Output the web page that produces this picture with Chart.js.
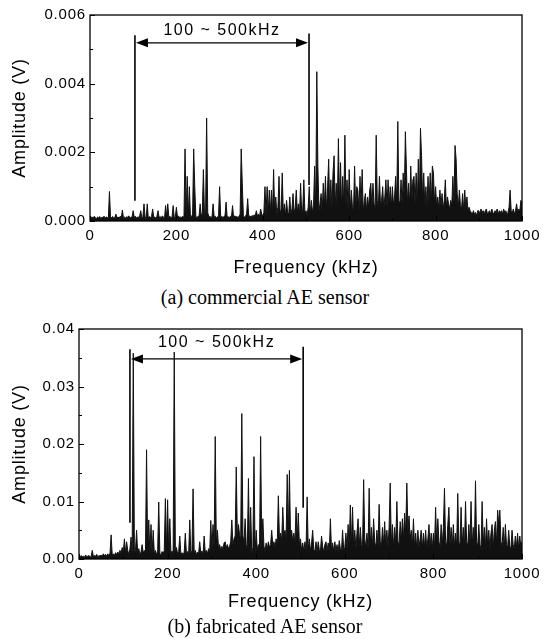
<!DOCTYPE html>
<html><head><meta charset="utf-8">
<script src="https://cdn.jsdelivr.net/npm/chart.js@4.4.1/dist/chart.umd.min.js"></script>
<style>
html,body{margin:0;padding:0;background:#fff;}
body{width:553px;height:639px;position:relative;overflow:hidden;}
canvas{position:absolute;left:0;}
#cA{top:0;} #cB{top:314px;}
.cap{position:absolute;font-family:"Liberation Serif","Times New Roman",serif;font-size:20px;line-height:22px;color:#000;white-space:nowrap;transform:translate(-50%,-50%);}
</style></head><body>
<canvas id="cA" width="553" height="285"></canvas>
<canvas id="cB" width="553" height="308"></canvas>
<div class="cap" style="left:265px;top:297px">(a) commercial AE sensor</div>
<div class="cap" style="left:265px;top:626px">(b) fabricated AE sensor</div>
<script>
// ---- data (amplitude in mV, sampled every FREQ_STEP_KHZ from 0 to 1000 kHz) ----
const FREQ_STEP_KHZ = 2.5;

const AMP_A_MV = [
 0.15,0.1,0.12,0.08,0.14,0.1,0.06,0.12,0.09,0.13,0.07,0.11,0.1,0.14,0.08,0.12,0.1,0.09,0.86,0.12,
 0.1,0.13,0.07,0.11,0.2,0.09,0.12,0.08,0.14,0.1,0.32,0.09,0.12,0.07,0.13,0.1,0.15,0.08,0.11,0.12,
 0.3,0.1,0.14,0.08,0.12,0.1,0.15,0.3,0.09,0.13,0.5,0.11,0.1,0.5,0.08,0.13,0.1,0.14,0.35,0.1,
 0.12,0.08,0.14,0.3,0.1,0.13,0.09,0.15,0.11,0.08,0.45,0.12,0.5,0.1,0.14,0.09,0.13,0.45,0.1,0.12,
 0.4,0.11,0.15,0.09,0.12,0.1,0.14,0.08,2.1,0.2,1.3,0.15,1.0,0.12,0.13,0.2,2.1,1.0,0.14,0.1,
 0.13,0.15,0.5,0.12,0.25,1.5,0.2,0.15,3.0,0.25,0.12,0.14,0.1,0.13,0.5,0.11,0.14,0.09,0.12,0.15,
 1.0,0.12,0.14,0.1,0.13,0.15,0.55,0.11,0.13,0.09,0.14,0.12,0.45,0.1,0.15,0.12,0.13,0.1,0.14,0.2,
 2.1,1.1,0.15,0.12,0.14,0.2,0.65,0.13,0.15,0.11,0.16,0.13,0.18,0.14,0.3,0.15,0.2,0.13,0.35,0.2,
 0.15,0.25,1.0,0.2,1.0,0.2,0.9,0.25,0.9,0.2,1.5,0.25,0.7,0.2,0.4,1.3,0.2,0.35,1.4,0.2,
 0.5,0.15,0.6,0.25,0.2,0.7,0.2,0.35,0.8,0.2,0.4,0.9,0.25,0.5,0.2,1.1,0.25,0.35,1.2,0.25,
 0.3,0.15,0.4,1.0,0.2,0.6,0.25,0.45,1.6,0.3,4.35,1.6,0.3,0.5,0.8,0.25,1.1,0.4,1.3,0.3,
 1.0,1.8,0.3,1.2,0.35,1.4,1.9,0.4,1.1,0.3,2.4,0.5,1.7,0.35,1.3,0.45,2.5,0.5,1.2,0.3,
 1.5,0.3,0.9,0.4,0.3,1.6,0.35,1.0,0.9,0.3,1.3,0.45,1.5,0.25,0.6,0.8,0.3,0.7,0.4,0.9,
 1.1,0.4,1.1,0.5,0.35,2.5,0.6,0.4,1.3,0.45,0.6,1.0,0.35,0.7,1.2,0.4,1.2,0.5,1.0,0.4,
 1.0,0.45,0.7,1.3,0.5,2.9,0.6,0.5,1.2,0.45,1.4,0.6,2.6,1.5,0.5,1.1,0.45,1.6,0.6,1.2,
 1.3,0.5,1.4,0.45,1.8,0.6,2.7,1.9,0.6,1.4,0.45,1.0,0.4,1.3,0.5,1.4,0.45,1.6,1.4,0.5,
 1.0,0.4,0.7,0.35,0.9,0.45,0.8,0.35,0.6,1.2,0.4,0.7,0.5,0.35,0.6,0.45,1.3,0.5,2.2,1.8,
 0.8,0.4,0.9,0.45,0.35,0.8,0.3,0.9,0.35,0.7,0.3,0.4,0.3,0.25,0.2,0.3,0.2,0.25,0.15,0.3,
 0.3,0.2,0.35,0.25,0.3,0.2,0.3,0.35,0.2,0.25,0.3,0.2,0.35,0.25,0.2,0.3,0.25,0.35,0.2,0.3,
 0.25,0.3,0.2,0.35,0.25,0.3,0.2,0.25,0.4,0.9,0.3,0.25,0.35,0.2,0.3,0.5,0.25,0.35,0.3,0.6,
 0.5
];

const AMP_B_MV = [
 0.5,0.3,0.6,0.4,0.5,0.3,0.7,0.4,0.5,0.6,0.3,0.5,1.5,0.4,0.6,0.5,0.8,0.4,0.6,0.5,
 0.7,0.5,0.9,0.6,0.8,0.5,0.9,0.6,1.0,4.2,0.7,0.9,0.6,1.1,0.8,1.2,0.9,1.5,1.0,2.0,
 1.2,3.5,1.0,3.0,1.5,0.8,1.8,3.8,1.0,35.8,1.4,1.5,5.0,1.0,1.8,0.8,1.2,2.5,1.0,1.5,
 0.9,19,1.2,6.8,0.8,6,1.0,5,0.9,1.5,0.8,1.2,9.9,1.0,0.7,1.3,0.9,1.5,10.5,1.2,
 10.3,1.0,7,0.9,1.4,0.8,36,1.2,2.0,0.9,1.3,4,0.8,1.1,0.7,1.2,4.5,0.9,1.3,0.8,
 6.8,1.0,1.4,12.2,1.0,1.5,0.8,1.2,0.9,3.0,1.0,1.4,0.8,4,1.1,1.5,0.9,1.8,1.2,6.7,
 1.5,6,2.0,21.3,2.5,5,1.8,2.5,1.5,2.2,1.8,2.8,3,2.0,2.5,1.8,2.2,3.0,6.8,2.5,
 3.5,4.0,16,3.8,6,4.2,3.5,25.3,4.0,3.0,7,2.5,2.0,14,1.5,9,1.0,2.0,17.8,1.2,
 5,1.5,2.5,1.8,21.3,2.0,7,2.2,1.5,2.8,1.8,3,2.0,2.5,5,2.2,3.0,2.0,3.5,2.5,
 11,3.5,4.5,3.0,9,4.0,5,3.5,14.7,4.0,15.4,3.8,5,3.0,4.5,2.8,9,3.2,8,2.5,
 3.5,1.5,2.8,1.4,3.0,1.6,10.8,1.5,3.5,1.3,2.8,5,1.6,1.4,3.0,1.2,3,1.6,1.4,4,
 2.2,1.2,2.5,3,1.4,2.8,1.2,7,1.5,2.8,1.3,3.0,1.5,2.5,1.2,3.2,1.8,1.3,5,1.6,
 2.0,4.5,1.8,6,2.2,9.4,2.5,9,2.0,5.0,1.8,4.5,7,2.0,5.5,2.5,2.0,13.8,3.5,2.0,
 4.5,1.8,12.3,2.5,5.5,2.0,7,3.0,2.0,5.0,2.2,9.5,3.0,2.0,5.5,2.5,6.5,2.2,5,2.0,
 5.5,13.2,2.5,6,2.0,5.5,2.8,10,3.0,2.5,6.5,3.0,7,3.5,8,4.5,13.2,5,7.5,3.5,
 5,2.2,7,2.0,4.5,1.8,5,2.0,3.5,5,1.8,4.5,2.0,5,1.8,3.5,6,2.0,4.5,1.8,
 4.5,2.0,9,2.5,7,3.0,2.0,6,2.5,5.5,12.3,3.0,2.2,6,9,2.5,5.5,2.0,6,2.2,
 4.5,2.2,11.4,3.0,2.2,9,2.5,5.5,2.0,10,3.0,2.2,6,2.5,10,2.2,5.5,2.0,13.6,3.0,
 2.2,6,2.5,1.8,10,2.5,5.5,2.0,7,2.2,5,1.8,4.5,6,2.0,5,6.5,2.5,8.5,6,
 8.5,3.0,2.2,5.5,1.8,6,2.5,2.0,5,2.2,1.8,5,2.5,1.8,4.0,2.0,4.5,1.8,4.0,2.0,
 3.0
];

const X_TICK_LABELS = ['0','200','400','600','800','1000'];
const Y_TICK_LABELS_A = ['0.000','0.002','0.004','0.006'];
const Y_TICK_LABELS_B = ['0.00','0.01','0.02','0.03','0.04'];

// "100 ~ 500kHz" band markers (kHz / mV)
const BAND_A = {label:'100 ~ 500kHz', kHz:[104,507], leftSpan:[0.59,5.41], rightSpan:[1.05,5.46], arrowAt:5.19, labelAt:5.56};
const BAND_B = {label:'100 ~ 500kHz', kHz:[115,506], leftSpan:[6.3,36.5], rightSpan:[8.9,36.9], arrowAt:34.8, labelAt:37.6};

// ---- rendering ----
const FONT = '"Liberation Sans", Arial, Helvetica, sans-serif';
Chart.defaults.font.family = FONT;
Chart.defaults.color = '#000';

const framePlugin = {
  id: 'frame',
  beforeDraw(chart) { chart.ctx.letterSpacing = '0.8px'; },
  afterDatasetsDraw(chart, args, opts) {
    const {ctx, chartArea: ca} = chart;
    const x = chart.scales.x, y = chart.scales.y;
    ctx.save();
    ctx.strokeStyle = '#000'; ctx.fillStyle = '#000';
    ctx.lineWidth = 1.3;
    ctx.strokeRect(ca.left, ca.top, ca.right - ca.left, ca.bottom - ca.top);
    ctx.lineWidth = 1;
    ctx.beginPath();
    const nY = Math.round((y.max - y.min) / opts.yMinor);
    for (let k = 0; k <= nY; k++) {
      const py = Math.round(y.getPixelForValue(y.min + k * opts.yMinor)) + 0.5;
      const len = (k % 2 === 0) ? 5 : 3;
      ctx.moveTo(ca.left, py); ctx.lineTo(ca.left + len, py);
    }
    const nX = Math.round((x.max - x.min) / opts.xMinor);
    for (let k = 0; k <= nX; k++) {
      const px = Math.round(x.getPixelForValue(x.min + k * opts.xMinor)) + 0.5;
      const len = (k % 2 === 0) ? 5 : 3;
      ctx.moveTo(px, ca.bottom); ctx.lineTo(px, ca.bottom - len);
    }
    ctx.stroke();

    const b = opts.band;
    const xl = x.getPixelForValue(b.kHz[0]), xr = x.getPixelForValue(b.kHz[1]);
    ctx.lineWidth = 1.6;
    ctx.beginPath();
    ctx.moveTo(xl, y.getPixelForValue(b.leftSpan[0])); ctx.lineTo(xl, y.getPixelForValue(b.leftSpan[1]));
    ctx.moveTo(xr, y.getPixelForValue(b.rightSpan[0])); ctx.lineTo(xr, y.getPixelForValue(b.rightSpan[1]));
    ctx.stroke();
    const ya = y.getPixelForValue(b.arrowAt);
    ctx.lineWidth = 1.2;
    ctx.beginPath(); ctx.moveTo(xl + 10, ya); ctx.lineTo(xr - 10, ya); ctx.stroke();
    ctx.beginPath(); ctx.moveTo(xl + 1, ya); ctx.lineTo(xl + 13, ya - 4.5); ctx.lineTo(xl + 13, ya + 4.5); ctx.closePath(); ctx.fill();
    ctx.beginPath(); ctx.moveTo(xr - 1, ya); ctx.lineTo(xr - 13, ya - 4.5); ctx.lineTo(xr - 13, ya + 4.5); ctx.closePath(); ctx.fill();
    ctx.font = '16px ' + FONT;
    ctx.letterSpacing = '1.5px';
    ctx.textAlign = 'center'; ctx.textBaseline = 'middle';
    ctx.fillText(b.label, (xl + xr) / 2, y.getPixelForValue(b.labelAt));
    ctx.restore();
  }
};

function makeChart(id, amps, yMax, yStep, yLabels, yWidth, xHeight, titleBottomPad, band) {
  const points = amps.map((v, i) => ({x: i * FREQ_STEP_KHZ, y: v}));
  return new Chart(document.getElementById(id), {
    type: 'line',
    data: { datasets: [{
      data: points,
      borderColor: '#111', backgroundColor: '#111',
      borderWidth: 1, pointRadius: 0, tension: 0, fill: 'origin'
    }]},
    options: {
      responsive: false, animation: false, devicePixelRatio: 1,
      layout: { padding: {top: 15, right: 31, left: 0, bottom: 0} },
      plugins: { legend: {display: false}, tooltip: {enabled: false},
        frame: { band: band, yMinor: yStep / 2, xMinor: 100 } },
      scales: {
        x: {
          type: 'linear', min: 0, max: 1000,
          grid: {display: false, drawTicks: false}, border: {display: false},
          ticks: {stepSize: 200, padding: 6, font: {size: 15}, color: '#000', maxRotation: 0,
                  callback: (v, i) => X_TICK_LABELS[i]},
          title: {display: true, text: 'Frequency (kHz)', font: {size: 18}, color: '#000',
                  padding: {top: 0, bottom: titleBottomPad}},
          afterFit: s => { s.height = xHeight; }
        },
        y: {
          min: 0, max: yMax,
          grid: {display: false, drawTicks: false}, border: {display: false},
          ticks: {stepSize: yStep, padding: 4, font: {size: 15}, color: '#000',
                  callback: (v, i) => yLabels[i]},
          title: {display: true, text: 'Amplitude (V)', font: {size: 18}, color: '#000',
                  padding: {top: 9, bottom: 0}},
          afterFit: s => { s.width = yWidth; }
        }
      }
    },
    plugins: [framePlugin]
  });
}

makeChart('cA', AMP_A_MV, 6, 2, Y_TICK_LABELS_A, 90, 64, 6, BAND_A);
makeChart('cB', AMP_B_MV, 40, 10, Y_TICK_LABELS_B, 79, 63, 9, BAND_B);
</script>
</body></html>
